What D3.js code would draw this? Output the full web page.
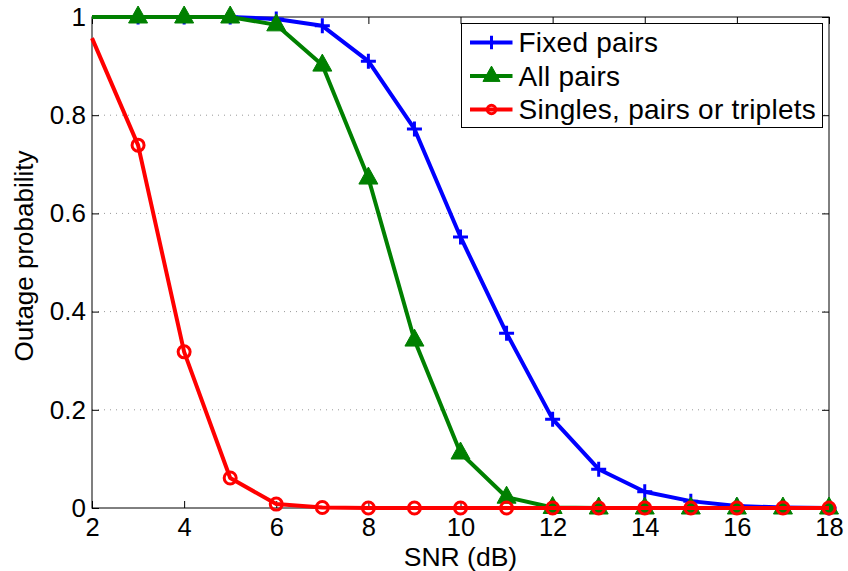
<!doctype html>
<html>
<head>
<meta charset="utf-8">
<title>Outage probability</title>
<style>
* {padding:0;margin:0}
body {background:#fff}
text {font-family: "Liberation Sans", Arial, sans-serif}
</style>
</head>
<body>
<div id="chart"></div>
<script src="https://d3js.org/d3.v7.min.js"></script>
<script>

	const snr = [2,3,4,5,6,7,8,9,10,11,12,13,14,15,16,17,18];
	const fixedPairs = [1,1,1,1,0.996,0.982,0.910,0.772,0.552,0.356,0.181,0.079,0.033,0.014,0.004,0.001,0];
	const allPairs = [1,1,1,1,0.984,0.902,0.672,0.342,0.112,0.022,0.001,0,0,0,0,0,0];
	const singles = [0.957,0.739,0.318,0.061,0.008,0.001,0,0,0,0,0,0,0,0,0,0,0];
	const xTicks = [2,4,6,8,10,12,14,16,18];
	const yTicks = [0,0.2,0.4,0.6,0.8,1];
	const seriesNames = ["Fixed pairs","All pairs","Singles, pairs or triplets"];

	const margin = {top: 17, right: 19, bottom: 63, left: 92};
	const W = 848, H = 571;
	const width = W - margin.left - margin.right;
	const height = H - margin.top - margin.bottom;

	const x = d3.scaleLinear().domain([2,18]).range([0,width]);
	const y = d3.scaleLinear().domain([0,1]).range([height,0]);

	const svg = d3.select("#chart").append("svg")
		.attr("width", W)
		.attr("height", H);
	const g = svg.append("g")
		.attr("transform", "translate(" + margin.left + "," + margin.top + ")");

	// dotted grid
	g.selectAll(".grid").data(yTicks.filter(d => d > 0 && d < 1)).enter()
		.append("line")
		.attr("x1", 0).attr("x2", width)
		.attr("y1", d => y(d)).attr("y2", d => y(d))
		.attr("stroke", "#999")
		.attr("stroke-width", 1)
		.attr("stroke-dasharray", "1,5");

	// axes, ticks inward
	const fmt = d => d3.format("~g")(d);
	const ax = (gen, tr, size) => {
		const a = g.append("g").attr("transform", tr).call(gen);
		a.select(".domain").remove();
		a.selectAll("line").attr("stroke", "#000");
		a.selectAll("text").attr("font-size", size || "26px").attr("fill", "#000");
		return a;
	};
	ax(d3.axisBottom(x).tickValues(xTicks).tickSize(-7).tickPadding(10).tickFormat(fmt), "translate(0," + height + ")", "25.5px");
	ax(d3.axisTop(x).tickValues(xTicks).tickSize(-7).tickFormat(""), "translate(0,0)");
	ax(d3.axisLeft(y).tickValues(yTicks).tickSize(-7).tickPadding(6).tickFormat(fmt), "translate(0,0)");
	ax(d3.axisRight(y).tickValues(yTicks).tickSize(-7).tickFormat(""), "translate(" + width + ",0)");

	g.append("rect")
		.attr("width", width).attr("height", height)
		.attr("fill", "none").attr("stroke", "#000").attr("stroke-width", 1);

	const line = d3.line().x((d,i) => x(snr[i])).y(d => y(d));

	const series = [
		{name: seriesNames[0], values: fixedPairs, color: "#0000ff", marker: "plus"},
		{name: seriesNames[1], values: allPairs, color: "#008000", marker: "tri"},
		{name: seriesNames[2], values: singles, color: "#ff0000", marker: "circle"}
	];

	function drawMarker(sel, type, color, k) {
		k = k || 1;
		if (type === "plus") {
			sel.append("path").attr("d", "M" + (-7.5*k) + ",0H" + (7.5*k) + "M0," + (-7.5*k) + "V" + (7.5*k))
				.attr("stroke", color).attr("stroke-width", 3).attr("fill", "none");
		} else if (type === "tri") {
			sel.append("path").attr("d", "M0," + (-11*k) + "L" + (9.5*k) + "," + (6*k) + "H" + (-9.5*k) + "Z")
				.attr("fill", color).attr("stroke", color).attr("stroke-width", 1);
		} else {
			sel.append("circle").attr("r", 6*k)
				.attr("fill", "none").attr("stroke", color).attr("stroke-width", 3);
		}
	}

	series.forEach(s => {
		g.append("path").datum(s.values)
			.attr("d", line)
			.attr("fill", "none")
			.attr("stroke", s.color)
			.attr("stroke-width", 4)
			.attr("stroke-linejoin", "round");
		s.values.forEach((v, i) => {
			if (i === 0) return;
			const m = g.append("g").attr("transform", "translate(" + x(snr[i]) + "," + y(v) + ")");
			drawMarker(m, s.marker, s.color);
		});
	});

	// legend
	const lg = svg.append("g").attr("transform", "translate(461.5,23.5)");
	lg.append("rect").attr("width", 361).attr("height", 104)
		.attr("fill", "#fff").attr("stroke", "#000").attr("stroke-width", 1);
	series.forEach((s, i) => {
		const cy = 19 + i * 33.5;
		const row = lg.append("g").attr("transform", "translate(0," + cy + ")");
		row.append("line").attr("x1", 8.5).attr("x2", 51).attr("y1", 0).attr("y2", 0)
			.attr("stroke", s.color).attr("stroke-width", 4);
		const m = row.append("g").attr("transform", "translate(30,0)");
		drawMarker(m, s.marker, s.color, s.marker === "circle" ? 0.7 : 0.9);
		row.append("text").attr("x", 57).attr("y", 9.5)
			.attr("font-size", "28px").attr("letter-spacing", "0.25px").text(s.name);
	});

	// axis labels
	svg.append("text")
		.attr("x", margin.left + width / 2).attr("y", 566)
		.attr("text-anchor", "middle").attr("font-size", "26.5px")
		.text("SNR (dB)");
	svg.append("text")
		.attr("transform", "translate(33," + 256 + ") rotate(-90)")
		.attr("text-anchor", "middle").attr("font-size", "26px")
		.text("Outage probability");

</script>
</body>
</html>
